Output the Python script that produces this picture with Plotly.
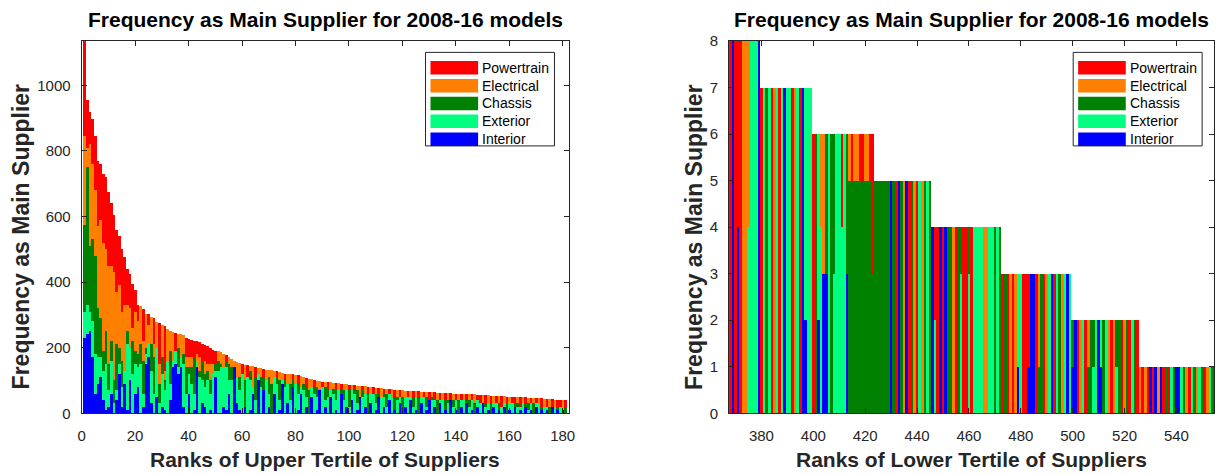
import plotly.graph_objects as go

# ---------------- data ----------------
# stacking order bottom -> top
series_names = ["Interior", "Exterior", "Chassis", "Electrical", "Powertrain"]
series_colors = ["#0000FF", "#00FF80", "#008000", "#FF8000", "#FF0000"]
legend_order = ["Powertrain", "Electrical", "Chassis", "Exterior", "Interior"]

# Upper tertile: ranks 1..181
upper_ranks = list(range(1, 182))
upper_interior = [
    230, 240, 250, 170, 60, 90, 110, 40, 10, 20,
    60, 0, 40, 120, 20, 90, 10, 100, 0, 60,
    80, 0, 20, 150, 170, 30, 0, 50, 0, 20,
    10, 0, 40, 140, 150, 120, 140, 20, 0, 60,
    0, 10, 140, 0, 30, 20, 0, 10, 0, 110,
    0, 0, 20, 10, 60, 0, 140, 30, 10, 0,
    20, 0, 10, 60, 0, 100, 0, 70, 0, 20,
    0, 60, 0, 10, 90, 0, 30, 0, 80, 0,
    10, 60, 0, 20, 0, 50, 0, 10, 70, 0,
    20, 0, 50, 0, 10, 0, 60, 0, 20, 0,
    40, 0, 10, 50, 0, 20, 0, 30, 0, 10,
    50, 0, 20, 0, 40, 0, 10, 0, 30, 0,
    20, 0, 40, 0, 10, 0, 30, 0, 10, 40,
    0, 20, 0, 30, 0, 10, 0, 40, 0, 10,
    0, 20, 0, 30, 0, 10, 0, 20, 0, 30,
    0, 10, 0, 20, 0, 10, 0, 20, 0, 10,
    0, 20, 0, 10, 0, 20, 0, 10, 0, 20,
    0, 10, 0, 10, 0, 20, 0, 10, 0, 10,
    0,
]
upper_exterior = [
    80, 90, 60, 110, 120, 80, 60, 90, 140, 50,
    100, 30, 30, 30, 60, 40, 200, 100, 120, 90,
    60, 150, 40, 30, 40, 100, 60, 150, 30, 100,
    60, 160, 50, 20, 40, 20, 30, 130, 60, 60,
    90, 50, 20, 110, 70, 60, 100, 50, 120, 20,
    130, 140, 120, 130, 40, 100, 0, 80, 60, 120,
    0, 110, 90, 20, 40, 20, 80, 0, 100, 40,
    0, 50, 90, 30, 10, 80, 60, 40, 0, 90,
    50, 20, 70, 30, 0, 30, 60, 40, 0, 80,
    20, 50, 20, 60, 30, 70, 0, 40, 50, 20,
    30, 60, 20, 0, 50, 40, 0, 30, 60, 20,
    0, 50, 30, 20, 20, 50, 0, 40, 20, 0,
    30, 50, 10, 20, 40, 0, 20, 50, 10, 0,
    40, 20, 0, 10, 40, 0, 30, 0, 20, 30,
    0, 20, 40, 0, 20, 30, 0, 20, 30, 0,
    20, 20, 0, 10, 30, 0, 20, 10, 0, 20,
    30, 0, 20, 10, 30, 0, 10, 20, 0, 10,
    30, 0, 20, 10, 0, 0, 20, 0, 20, 10,
    0,
]
upper_chassis = [
    265, 420, 200, 250, 300, 150, 120, 60, 100, 80,
    60, 70, 140, 50, 80, 0, 40, 0, 100, 40,
    40, 60, 100, 20, 0, 80, 110, 0, 60, 50,
    30, 0, 100, 0, 0, 60, 0, 30, 80, 20,
    50, 110, 0, 20, 60, 40, 30, 40, 0, 20,
    30, 10, 0, 20, 50, 40, 0, 0, 40, 0,
    80, 0, 30, 0, 70, 0, 30, 40, 0, 50,
    90, 0, 20, 60, 0, 20, 0, 50, 20, 0,
    30, 0, 20, 30, 70, 0, 20, 30, 0, 0,
    40, 20, 0, 15, 30, 0, 10, 30, 0, 50,
    0, 10, 40, 0, 20, 0, 60, 0, 0, 30,
    10, 0, 10, 40, 0, 0, 40, 10, 0, 50,
    0, 0, 0, 30, 0, 50, 0, 0, 30, 0,
    10, 0, 40, 0, 0, 30, 10, 0, 20, 0,
    40, 0, 0, 10, 20, 0, 30, 0, 0, 0,
    10, 0, 30, 0, 0, 20, 0, 0, 30, 0,
    0, 10, 10, 0, 0, 10, 20, 0, 30, 0,
    0, 10, 0, 0, 20, 0, 0, 10, 0, 0,
    20,
]
upper_electrical = [
    270, 60, 310, 230, 200, 250, 300, 330, 250, 300,
    230, 330, 160, 190, 150, 200, 80, 120, 40, 120,
    100, 116, 60, 102, 60, 82, 40, 77, 60, 99,
    30, 98, 60, 88, 0, 43, 70, 58, 30, 30,
    30, 0, 20, 40, 0, 40, 20, 50, 30, 0,
    29, 36, 42, 0, 20, 25, 18, 45, 43, 0,
    48, 0, 15, 63, 0, 19, 27, 0, 33, 22,
    41, 20, 0, 26, 24, 0, 30, 29, 0, 27,
    0, 32, 19, 0, 35, 23, 0, 19, 27, 0,
    15, 0, 24, 18, 0, 21, 0, 19, 18, 0,
    16, 0, 14, 34, 0, 22, 0, 20, 0, 18,
    0, 26, 0, 15, 0, 23, 0, 21, 0, 20,
    19, 0, 18, 0, 17, 0, 16, 0, 15, 0,
    14, 0, 23, 0, 22, 0, 21, 0, 20, 0,
    20, 0, 19, 0, 18, 0, 27, 0, 0, 25,
    0, 24, 0, 23, 0, 22, 0, 21, 0, 20,
    0, 0, 19, 0, 18, 0, 17, 0, 16, 0,
    15, 0, 24, 0, 23, 0, 21, 0, 0, 19,
    0,
]
upper_powertrain = [
    290, 145, 100, 137, 165, 200, 170, 210, 220, 225,
    190, 175, 190, 150, 190, 145, 110, 105, 135, 65,
    50, 0, 99, 0, 31, 0, 80, 0, 124, 0,
    135, 0, 0, 0, 55, 0, 0, 0, 58, 55,
    53, 51, 39, 48, 52, 49, 55, 49, 42, 39,
    0, 0, 0, 16, 0, 0, 0, 0, 0, 30,
    0, 37, 0, 0, 31, 0, 0, 24, 0, 0,
    0, 0, 18, 0, 0, 21, 0, 0, 18, 0,
    25, 0, 0, 27, 0, 0, 21, 0, 0, 16,
    0, 24, 0, 0, 22, 0, 20, 0, 0, 17,
    0, 15, 0, 0, 13, 0, 21, 0, 19, 0,
    17, 0, 15, 0, 14, 0, 22, 0, 20, 0,
    0, 19, 0, 18, 0, 17, 0, 16, 0, 25,
    0, 24, 0, 23, 0, 22, 0, 21, 0, 20,
    0, 19, 0, 18, 0, 17, 0, 16, 25, 0,
    24, 0, 23, 0, 22, 0, 31, 0, 20, 0,
    20, 19, 0, 28, 0, 18, 0, 17, 0, 16,
    0, 25, 0, 23, 0, 22, 0, 21, 20, 0,
    19,
]

# Lower tertile: ranks 368..554
lower_ranks = list(range(368, 555))
lower_interior = [
    0, 8, 0, 4, 0, 0, 0, 0, 0, 0, 0, 8,
    0, 0, 0, 0, 0, 0, 0, 0, 0, 7, 0, 0, 0, 0, 0, 0, 7, 2, 0, 0,
    0, 0, 2, 0, 3, 3, 0, 0, 0, 0, 0, 0, 0, 3, 0, 0, 0, 0, 0, 0, 0, 0, 0, 0,
    0, 0, 0, 0, 0, 0, 5, 0, 0, 5, 0, 0, 5, 0, 0, 0, 0, 0, 0, 0, 0, 0,
    4, 0, 0, 4, 0, 4, 0, 0, 0, 0, 0, 0, 0, 0, 0, 0, 0, 0, 0, 0, 0, 0, 0, 0, 0, 0, 0,
    0, 0, 0, 0, 0, 0, 1, 0, 0, 0, 1, 3, 3, 0, 0, 0, 0, 0, 0, 3, 0, 0, 0, 0, 0, 3, 0,
    1, 2, 0, 0, 0, 0, 0, 0, 0, 0, 2, 1, 0, 0, 0, 0, 0, 0, 0, 0, 0, 0, 0, 0, 0, 0,
    0, 0, 0, 0, 1, 0, 1, 0, 1, 0, 0, 0, 0, 0, 1, 1, 0, 0, 0, 0, 0, 0, 0, 0, 0, 0, 0, 0, 0,
]
lower_exterior = [
    0, 0, 0, 0, 0, 0, 0, 4, 8, 8, 8, 0,
    0, 7, 0, 7, 0, 0, 7, 0, 7, 0, 7, 7, 0, 0, 7, 0, 0, 5, 7, 7,
    0, 0, 4, 4, 0, 0, 6, 0, 3, 6, 6, 4, 6, 0, 0, 0, 0, 0, 0, 0, 0, 0, 0, 0,
    0, 0, 0, 0, 0, 0, 0, 0, 0, 0, 0, 0, 0, 0, 0, 0, 0, 5, 0, 0, 5, 0,
    0, 2, 0, 0, 0, 0, 0, 0, 0, 0, 0, 3, 0, 0, 3, 0, 4, 4, 4, 4, 0, 0, 4, 4, 0, 4, 0,
    0, 0, 0, 0, 0, 0, 2, 3, 0, 0, 0, 0, 0, 0, 0, 0, 0, 0, 3, 0, 0, 3, 0, 0, 3, 0, 3,
    0, 0, 0, 0, 2, 0, 0, 0, 1, 2, 0, 1, 0, 2, 0, 0, 0, 1, 0, 0, 0, 0, 0, 2, 0, 0,
    0, 0, 0, 0, 0, 0, 0, 0, 0, 0, 0, 0, 1, 0, 0, 0, 1, 0, 0, 0, 1, 0, 0, 1, 0, 0, 0, 1, 0,
]
lower_chassis = [
    0, 0, 0, 0, 0, 0, 0, 0, 0, 0, 0, 0,
    0, 0, 7, 0, 0, 0, 0, 0, 0, 0, 0, 0, 0, 0, 0, 0, 0, 0, 0, 0,
    0, 6, 0, 0, 0, 3, 0, 6, 3, 0, 0, 0, 0, 3, 5, 5, 5, 5, 5, 5, 5, 5, 5, 3,
    5, 5, 5, 5, 5, 5, 0, 5, 0, 0, 5, 0, 0, 0, 5, 0, 0, 0, 0, 5, 0, 5,
    0, 0, 0, 0, 0, 0, 4, 4, 0, 0, 4, 1, 0, 0, 1, 0, 0, 0, 0, 0, 0, 0, 0, 0, 4, 0, 4,
    0, 3, 0, 0, 0, 0, 0, 0, 0, 0, 0, 0, 0, 0, 1, 3, 0, 0, 0, 0, 0, 0, 3, 0, 0, 0, 0,
    1, 0, 0, 0, 0, 0, 1, 2, 1, 0, 0, 0, 2, 0, 0, 0, 0, 1, 2, 0, 0, 2, 0, 0, 2, 0,
    0, 0, 0, 0, 0, 0, 0, 0, 0, 0, 1, 0, 0, 1, 0, 0, 0, 1, 0, 0, 0, 1, 0, 0, 1, 0, 0, 0, 1,
]
lower_electrical = [
    0, 0, 0, 0, 0, 8, 8, 4, 0, 0, 0, 0,
    0, 0, 0, 0, 0, 7, 0, 0, 0, 0, 0, 0, 0, 7, 0, 0, 0, 0, 0, 0,
    0, 0, 0, 2, 3, 0, 0, 0, 0, 0, 0, 0, 0, 0, 1, 0, 1, 1, 0, 0, 1, 1, 0, 0,
    0, 0, 0, 0, 0, 0, 0, 0, 0, 0, 0, 5, 0, 0, 0, 5, 0, 0, 5, 0, 0, 0,
    0, 0, 0, 0, 0, 0, 0, 0, 4, 0, 0, 0, 0, 0, 0, 0, 0, 0, 0, 0, 4, 4, 0, 0, 0, 0, 0,
    0, 0, 0, 3, 0, 3, 0, 0, 0, 0, 0, 0, 0, 0, 2, 0, 0, 3, 0, 0, 0, 0, 0, 3, 0, 0, 0,
    0, 0, 0, 2, 0, 0, 1, 0, 0, 0, 0, 0, 0, 0, 2, 0, 2, 0, 0, 0, 2, 0, 0, 0, 0, 0,
    1, 0, 1, 0, 0, 0, 0, 1, 0, 0, 0, 0, 0, 0, 0, 0, 0, 0, 1, 0, 0, 0, 1, 0, 0, 0, 1, 0, 0,
]
lower_powertrain = [
    8, 0, 8, 4, 8, 0, 0, 0, 0, 0, 0, 0,
    7, 0, 0, 0, 7, 0, 0, 7, 0, 0, 0, 0, 7, 0, 0, 7, 0, 0, 0, 0,
    6, 0, 0, 0, 0, 0, 0, 0, 0, 0, 0, 2, 0, 0, 0, 1, 0, 0, 1, 1, 0, 0, 1, 3,
    0, 0, 0, 0, 0, 0, 0, 0, 5, 0, 0, 0, 0, 5, 0, 0, 5, 0, 0, 0, 0, 0,
    0, 2, 4, 0, 4, 0, 0, 0, 0, 4, 0, 0, 4, 4, 0, 4, 0, 0, 0, 0, 0, 0, 0, 0, 0, 0, 0,
    3, 0, 3, 0, 3, 0, 0, 0, 3, 3, 2, 0, 0, 3, 0, 0, 3, 0, 0, 0, 3, 0, 0, 0, 0, 0, 0,
    0, 0, 2, 0, 0, 2, 0, 0, 0, 0, 0, 0, 0, 0, 0, 2, 0, 0, 0, 2, 0, 0, 2, 0, 0, 2,
    0, 1, 0, 1, 0, 1, 0, 0, 0, 1, 0, 1, 0, 0, 0, 0, 0, 0, 0, 1, 0, 0, 0, 0, 0, 1, 0, 0, 0,
]

upper_series = [upper_interior, upper_exterior, upper_chassis, upper_electrical, upper_powertrain]
lower_series = [lower_interior, lower_exterior, lower_chassis, lower_electrical, lower_powertrain]
for s in upper_series:
    assert len(s) == len(upper_ranks), len(s)
for s in lower_series:
    assert len(s) == len(lower_ranks), len(s)

upper_xticks = [0, 20, 40, 60, 80, 100, 120, 140, 160, 180]
upper_yticks = [0, 200, 400, 600, 800, 1000]
lower_xticks = [380, 400, 420, 440, 460, 480, 500, 520, 540]
lower_yticks = [0, 1, 2, 3, 4, 5, 6, 7, 8]

title_text = "Frequency as Main Supplier for 2008-16 models"
ylabel_text = "Frequency as Main Supplier"
xlabel_upper = "Ranks of Upper Tertile of Suppliers"
xlabel_lower = "Ranks of Lower Tertile of Suppliers"

# ---------------- figure ----------------
W, H = 1225, 475
FONT = "Liberation Sans, Arial, Helvetica, sans-serif"
AX = "#262626"

def px(x):
    return x / W

def py(y):
    return 1 - y / H

fig = go.Figure()
for name, color, vals in zip(series_names, series_colors, upper_series):
    fig.add_trace(go.Bar(x=upper_ranks, y=vals, name=name, marker=dict(color=color, line=dict(width=0)),
                         xaxis="x", yaxis="y", showlegend=False))
for name, color, vals in zip(series_names, series_colors, lower_series):
    fig.add_trace(go.Bar(x=lower_ranks, y=vals, name=name, marker=dict(color=color, line=dict(width=0)),
                         xaxis="x2", yaxis="y2", showlegend=False))

ydom = [py(419.3), py(33.3)]
axis_common = dict(showline=True, linecolor=AX, linewidth=1, mirror="ticks", ticks="inside",
                   ticklen=5, tickcolor=AX, showgrid=False, zeroline=False,
                   tickfont=dict(family=FONT, size=15, color=AX))

fig.update_layout(
    width=W, height=H,
    margin=dict(l=0, r=0, t=0, b=0),
    paper_bgcolor="white", plot_bgcolor="white",
    barmode="stack", bargap=0,
    xaxis=dict(domain=[px(78.3), px(570)], range=[0, 182.5], tickvals=upper_xticks,
               ticklabelstandoff=9, anchor="y", **axis_common),
    yaxis=dict(domain=ydom, range=[0, 1135], tickvals=upper_yticks, ticklabelstandoff=7,
               anchor="x", **axis_common),
    xaxis2=dict(domain=[px(731), px(1220)], range=[367.5, 554.5], tickvals=lower_xticks,
                ticklabelstandoff=9, anchor="y2", **axis_common),
    yaxis2=dict(domain=ydom, range=[0, 8], tickvals=lower_yticks, ticklabelstandoff=7,
                anchor="x2", **axis_common),
)

annotations = []
shapes = []
for cx, xlab, ylab_x, leg_x0 in [(324, xlabel_upper, 17, 425), (975.5, xlabel_lower, 695, 1078)]:
    annotations.append(dict(text="<b>%s</b>" % title_text, x=px(cx), y=py(11), xref="paper", yref="paper",
                            showarrow=False, font=dict(family=FONT, size=21, color="black"),
                            xanchor="center", yanchor="middle"))
    annotations.append(dict(text="<b>%s</b>" % xlab, x=px(cx), y=py(467), xref="paper", yref="paper",
                            showarrow=False, font=dict(family=FONT, size=21, color=AX),
                            xanchor="center", yanchor="middle"))
    annotations.append(dict(text="<b>%s</b>" % ylabel_text, x=px(ylab_x), y=py(236), xref="paper", yref="paper",
                            showarrow=False, textangle=-90, font=dict(family=FONT, size=23, color=AX),
                            xanchor="center", yanchor="middle"))
    # legend box
    shapes.append(dict(type="rect", xref="paper", yref="paper", x0=px(leg_x0), x1=px(leg_x0 + 130),
                       y0=py(142), y1=py(45), line=dict(color=AX, width=1), fillcolor="white"))
    for i, lname in enumerate(legend_order):
        color = series_colors[series_names.index(lname)]
        cy = 61 + i * 18.5
        shapes.append(dict(type="rect", xref="paper", yref="paper", x0=px(leg_x0 + 5), x1=px(leg_x0 + 53),
                           y0=py(cy + 7), y1=py(cy - 7), line=dict(width=0), fillcolor=color))
        annotations.append(dict(text=lname, x=px(leg_x0 + 55), y=py(cy), xref="paper", yref="paper",
                                showarrow=False, font=dict(family=FONT, size=14, color="black"),
                                xanchor="left", yanchor="middle"))

fig.update_layout(annotations=annotations, shapes=shapes)
fig.write_html("out.html")
